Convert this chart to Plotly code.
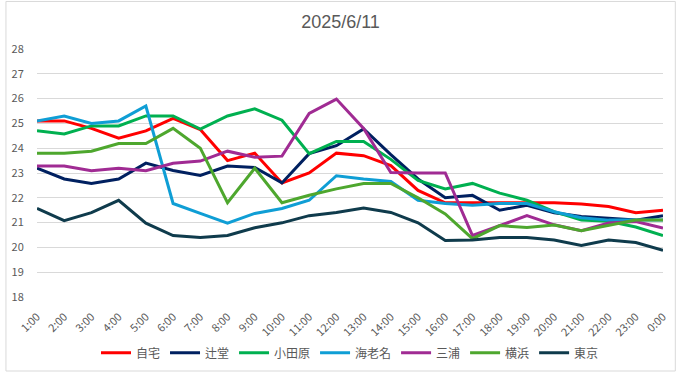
import plotly.graph_objects as go

hours = ["1:00", "2:00", "3:00", "4:00", "5:00", "6:00", "7:00", "8:00", "9:00", "10:00",
         "11:00", "12:00", "13:00", "14:00", "15:00", "16:00", "17:00", "18:00", "19:00",
         "20:00", "21:00", "22:00", "23:00", "0:00"]

jitaku = [25.1, 25.1, 24.8, 24.4, 24.7, 25.2, 24.75, 23.5, 23.8, 22.6, 23.0, 23.8,
          23.7, 23.3, 22.3, 21.8, 21.8, 21.8, 21.8, 21.8, 21.75, 21.65, 21.4, 21.5]
tsujido = [23.2, 22.76, 22.58, 22.76, 23.4, 23.1, 22.9, 23.28, 23.22, 22.6, 23.78, 24.1,
           24.78, 23.74, 22.76, 22.0, 22.1, 21.5, 21.7, 21.4, 21.25, 21.18, 21.1, 21.28]
odawara = [24.7, 24.57, 24.9, 24.9, 25.3, 25.3, 24.77, 25.3, 25.59, 25.13, 23.78, 24.27,
           24.27, 23.55, 22.7, 22.36, 22.58, 22.19, 21.9, 21.44, 21.1, 21.05, 20.82, 20.48]
ebina = [25.1, 25.3, 25.0, 25.1, 25.7, 21.77, 21.37, 20.98, 21.37, 21.57, 21.9, 22.89,
         22.76, 22.66, 21.9, 21.77, 21.7, 21.77, 21.77, 21.44, 21.2, 21.1, 21.1, 21.1]
miura = [23.28, 23.28, 23.09, 23.19, 23.09, 23.39, 23.48, 23.88, 23.64, 23.68, 25.4, 25.98,
         24.8, 23.02, 23.0, 23.0, 20.48, 20.87, 21.28, 20.91, 20.67, 20.98, 21.04, 20.78]
yokohama = [23.8, 23.8, 23.88, 24.19, 24.19, 24.8, 24.0, 21.8, 23.19, 21.8, 22.1, 22.36,
            22.58, 22.58, 22.0, 21.35, 20.35, 20.88, 20.8, 20.9, 20.67, 20.9, 21.1, 21.1]
tokyo = [21.57, 21.08, 21.4, 21.9, 20.98, 20.48, 20.4, 20.48, 20.79, 20.99, 21.28, 21.41,
         21.59, 21.41, 20.99, 20.28, 20.3, 20.4, 20.4, 20.3, 20.08, 20.3, 20.2, 19.88]

series_names = ["自宅", "辻堂", "小田原", "海老名", "三浦", "横浜", "東京"]
series_values = [jitaku, tsujido, odawara, ebina, miura, yokohama, tokyo]
series_colors = ["#FF0000", "#002060", "#00B050", "#0F9ED5", "#A02B93", "#4EA72E", "#0F3B4C"]

y_ticks = [18, 19, 20, 21, 22, 23, 24, 25, 26, 27, 28]

FONT = "Liberation Sans Narrow, Arial Narrow, Noto Sans CJK JP, sans-serif"

fig = go.Figure()
for name, vals, col in zip(series_names, series_values, series_colors):
    fig.add_trace(go.Scatter(x=hours, y=vals, name=name, mode="lines",
                             line=dict(color=col, width=3)))

W, H = 681, 379
ml, mr, mt, mb = 32, 14, 49, 77
pw, ph = W - ml - mr, H - mt - mb

fig.update_layout(
    width=W, height=H,
    margin=dict(l=ml, r=mr, t=mt, b=mb, pad=0),
    paper_bgcolor="white", plot_bgcolor="white",
    font=dict(family=FONT, color="#595959", size=11),
    title=dict(text="2025/6/11", x=0.5, xanchor="center", y=1 - 22 / H, yanchor="middle",
               font=dict(family="Liberation Sans, Arial, sans-serif", size=18, color="#595959")),
    showlegend=True,
    legend=dict(orientation="h", x=0.5, xanchor="center", y=-57 / ph, yanchor="middle",
                font=dict(family=FONT, size=12, color="#595959"),
                itemwidth=30, tracegroupgap=0),
    shapes=[dict(type="rect", xref="paper", yref="paper",
                 x0=-(ml - 0.5) / pw, x1=1 + (mr - 1.5) / pw,
                 y0=-(mb - 1.5) / ph, y1=1 + (mt - 0.5) / ph,
                 line=dict(color="#D9D9D9", width=1), layer="above")],
)
fig.update_xaxes(type="category", tickangle=-45, showgrid=False, showline=False,
                 ticks="outside", ticklen=8, tickcolor="white",
                 tickfont=dict(size=11, color="#595959"), zeroline=False)
fig.update_yaxes(range=[18, 28], tickvals=y_ticks, showgrid=True, gridcolor="#D9D9D9",
                 gridwidth=1, zeroline=False, showline=False,
                 ticks="outside", ticklen=10, tickcolor="white",
                 tickfont=dict(size=11, color="#595959"))

fig.write_html("out.html", config={"displayModeBar": False},
               post_script="document.body.style.margin='0';document.body.style.overflow='hidden';")
